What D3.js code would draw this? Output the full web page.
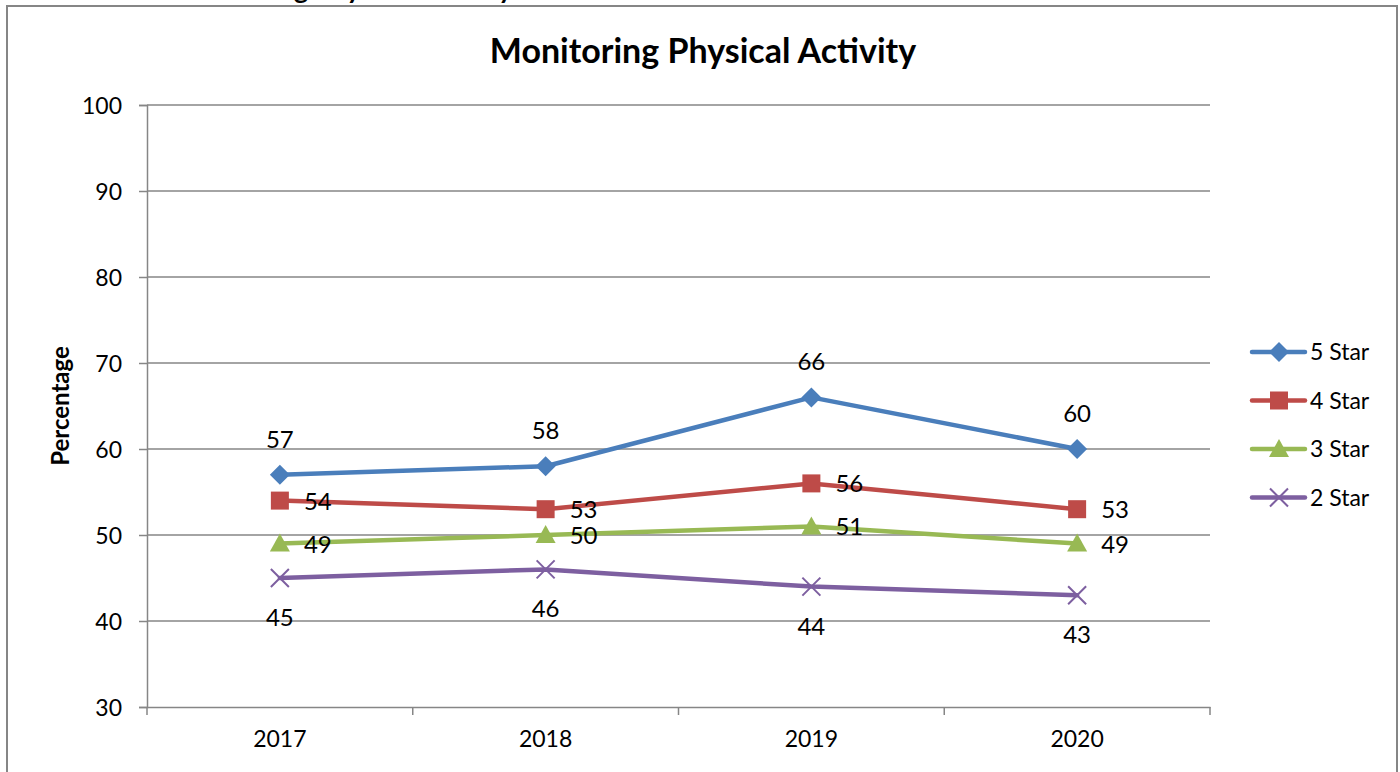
<!DOCTYPE html>
<html><head><meta charset="utf-8">
<script src="https://cdn.jsdelivr.net/npm/d3@7"></script>
<style>body{margin:0;background:#fff;} svg{display:block;font-family:Lato,"Open Sans",sans-serif;}</style>
</head><body><svg id="c" width="1400" height="772"></svg>
<script>
const categories = ["2017","2018","2019","2020"];
const seriesNames = ["5 Star","4 Star","3 Star","2 Star"];
const star5 = [57,58,66,60];
const star4 = [54,53,56,53];
const star3 = [49,50,51,49];
const star2 = [45,46,44,43];
const yTicks = [30,40,50,60,70,80,90,100];
const colors = ["#4A7EBB","#BE4B48","#98B954","#7D5FA0"];
const markers = ["diamond","square","triangle","x"];
const labelPos = ["above","right","right","below"];
const series = [star5,star4,star3,star2];

const svg = d3.select("#c");
// clipped outer heading
svg.append("text").attr("x",18).attr("y",-1).attr("font-weight","bold").attr("font-size",27)
  .attr("fill","#000").text("Measure 58: Monitoring Physical Activity");
// frame
svg.append("rect").attr("x",7).attr("y",6).attr("width",1390).attr("height",780)
  .attr("fill","#fff").attr("stroke","#868686").attr("stroke-width",2);

const L=147,R=1210,T=105,B=707;
const x = d3.scaleBand().domain(categories).range([L,R]);
const y = d3.scaleLinear().domain([30,100]).range([B,T]);

// gridlines
svg.append("g").selectAll("line").data(yTicks.slice(1)).join("line")
  .attr("x1",L).attr("x2",R).attr("y1",d=>y(d)).attr("y2",d=>y(d))
  .attr("stroke","#868686").attr("stroke-width",1.5);

const yAxis = svg.append("g").attr("transform",`translate(${L},0)`)
  .call(d3.axisLeft(y).tickValues(yTicks).tickSize(8).tickPadding(17));
const xAxis = svg.append("g").attr("transform",`translate(0,${B})`)
  .call(d3.axisBottom(x).tickSize(0).tickPadding(24));
// x tick marks between categories
const xb = [L, ...categories.slice(1).map(c=>x(c)), R];
svg.append("g").selectAll("line").data(xb).join("line")
  .attr("x1",d=>d).attr("x2",d=>d).attr("y1",B).attr("y2",B+8)
  .attr("stroke","#868686").attr("stroke-width",1.5);
[yAxis,xAxis].forEach(a=>{
  a.selectAll(".domain").attr("stroke","#868686").attr("stroke-width",1.5);
  a.selectAll(".tick line").attr("stroke","#868686").attr("stroke-width",1.5);
  a.selectAll("text").attr("font-size",23).attr("fill","#000").attr("font-family","Lato");
});
yAxis.selectAll("text").attr("dy","0.35em");

// title
svg.append("text").attr("x",703).attr("y",63).attr("text-anchor","middle")
  .attr("font-weight","bold").attr("font-size",34).text("Monitoring Physical Activity");
// y label
svg.append("text").attr("transform","translate(69,406) rotate(-90)").attr("text-anchor","middle")
  .attr("font-weight","bold").attr("font-size",24).text("Percentage");

const cx = c => x(c)+x.bandwidth()/2;
function drawMarker(g, type, color, px, py){
  if(type==="diamond"){
    g.append("path").attr("d",`M${px},${py-10}L${px+10},${py}L${px},${py+10}L${px-10},${py}Z`).attr("fill",color);
  } else if(type==="square"){
    g.append("rect").attr("x",px-9).attr("y",py-9).attr("width",18).attr("height",18).attr("fill",color);
  } else if(type==="triangle"){
    g.append("path").attr("d",`M${px},${py-10}L${px+10},${py+8}L${px-10},${py+8}Z`).attr("fill",color);
  } else {
    g.append("path").attr("d",`M${px-9},${py-9}L${px+9},${py+9}M${px-9},${py+9}L${px+9},${py-9}`)
      .attr("stroke",color).attr("stroke-width",2);
  }
}
const line = d3.line().x((d,i)=>cx(categories[i])).y(d=>y(d));
series.forEach((s,k)=>{
  const g = svg.append("g");
  g.append("path").datum(s).attr("d",line).attr("fill","none").attr("stroke",colors[k])
    .attr("stroke-width",4.5).attr("stroke-linejoin","round").attr("stroke-linecap","round");
  s.forEach((v,i)=>drawMarker(g,markers[k],colors[k],cx(categories[i]),y(v)));
  s.forEach((v,i)=>{
    const px=cx(categories[i]), py=y(v);
    const t=g.append("text").attr("font-size",24).attr("fill","#000").text(v);
    if(labelPos[k]==="above") t.attr("x",px).attr("y",py-27).attr("text-anchor","middle");
    else if(labelPos[k]==="below") t.attr("x",px).attr("y",py+48).attr("text-anchor","middle");
    else t.attr("x",px+24).attr("y",py+9);
  });
});

// legend
const lg = svg.append("g");
seriesNames.forEach((n,k)=>{
  const ly = 352 + k*48.5;
  lg.append("line").attr("x1",1252).attr("x2",1305).attr("y1",ly).attr("y2",ly)
    .attr("stroke",colors[k]).attr("stroke-width",4.5).attr("stroke-linecap","round");
  drawMarker(lg,markers[k],colors[k],1279,ly);
  lg.append("text").attr("x",1310).attr("y",ly+8).attr("font-size",23).text(n);
});
</script></body></html>
